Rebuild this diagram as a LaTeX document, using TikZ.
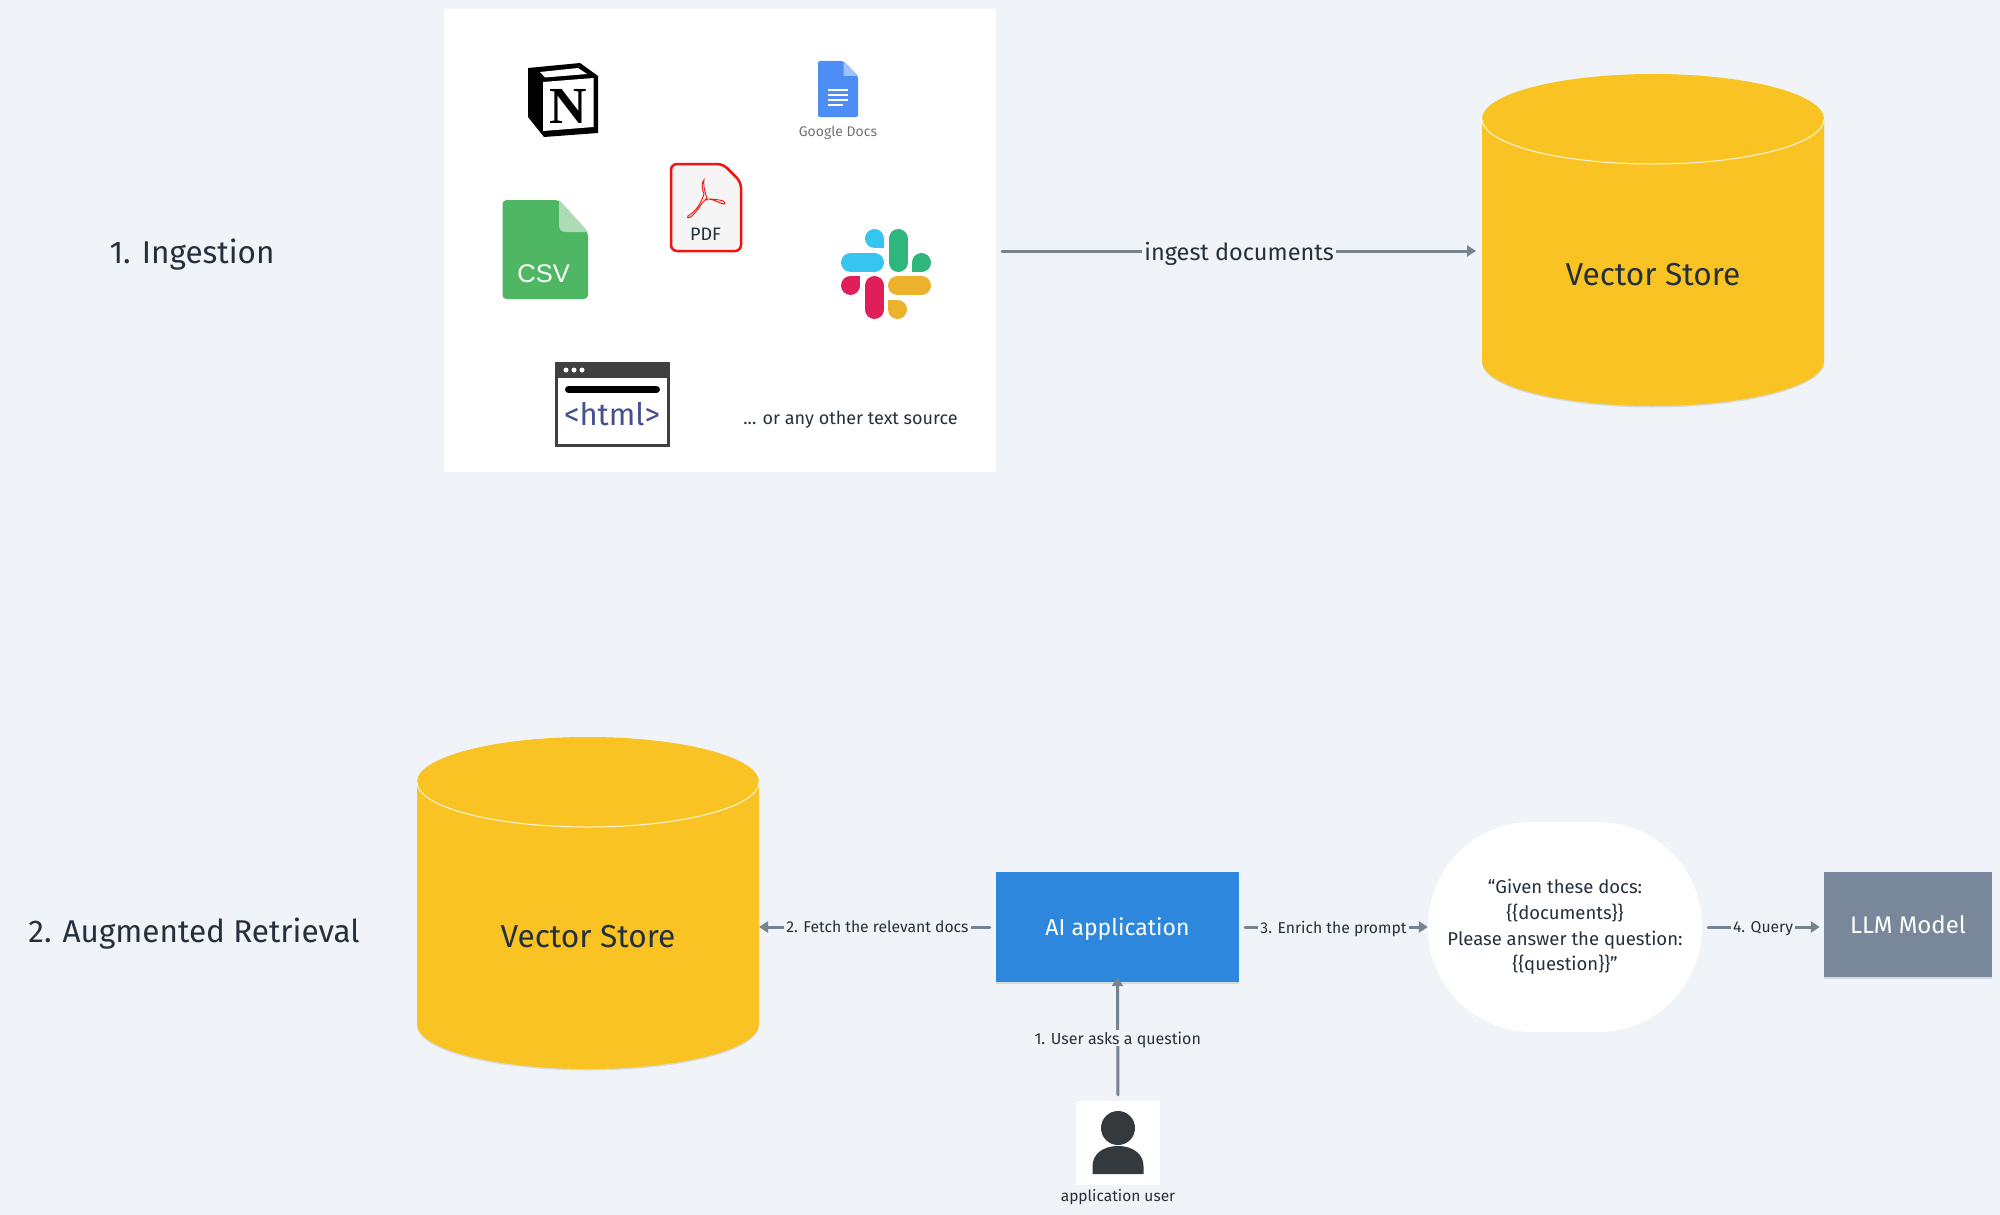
\documentclass[tikz,border=0pt]{standalone}
\usepackage{fontspec}
\setmainfont{Fira Sans}
\usetikzlibrary{arrows.meta,shadows}
\definecolor{pagebg}{HTML}{F0F3F7}
\definecolor{ink}{HTML}{25303D}
\definecolor{flowgray}{HTML}{76848F}
\definecolor{storeyellow}{HTML}{F9C423}
\definecolor{appblue}{HTML}{2D87DC}
\definecolor{llmgray}{HTML}{78889A}
\definecolor{persongray}{HTML}{33393D}
\definecolor{docsblue}{HTML}{4E8DF5}
\definecolor{docsfold}{HTML}{A1C2FA}
\definecolor{csvgreen}{HTML}{4FB764}
\definecolor{csvfold}{HTML}{ADDBB3}
\definecolor{htmlblue}{HTML}{46508C}
\definecolor{pdfred}{HTML}{F0140E}
\definecolor{slackblue}{HTML}{36C5F0}
\definecolor{slackgreen}{HTML}{2EB67D}
\definecolor{slackred}{HTML}{E01E5A}
\definecolor{slackyellow}{HTML}{ECB22E}
\newcommand{\px}[1]{\fontsize{#1}{#1}\selectfont}
\newcommand{\drawstore}[1]{%
    \fill[storeyellow,softshadow] ([yshift=-45]#1.north west) arc[start angle=180,end angle=360,x radius=171,y radius=45] -- ([yshift=45]#1.south east) arc[start angle=0,end angle=180,x radius=171,y radius=45] -- cycle;
    \draw[rim] ([yshift=-45]#1.north west) arc[start angle=180,end angle=0,x radius=171,y radius=45];
}
\tikzset{
    softshadow/.style={drop shadow={shadow xshift=0pt,shadow yshift=-1.5pt,opacity=.1,fill=black}},
    store/.style={minimum height=332,minimum width=342,inner sep=0,outer sep=0},
    storetext/.style={text=ink,font=\px{31.7},text depth=0},
    rim/.style={draw=white!85!storeyellow,line width=1},
    box/.style={text=white,inner sep=0,softshadow,text depth=0},
    flow/.style={draw=flowgray,line width=3,line cap=round,shorten <=6,-{Triangle[length=9,width=11]}},
    flowlabel/.style={fill=pagebg,text=ink,inner sep=2,font=\px{15.7},text depth=0},
    title/.style={text=ink,inner sep=0,font=\px{31.5},text depth=0},
}
\begin{document}
\begin{tikzpicture}[x=1pt,y=-1pt]
        \path[fill=pagebg,use as bounding box] (0,0) rectangle (2000,1215);
        \node[title] (ingestion) at (192,251) {1. Ingestion};
        \node[title] (retrieval) at (194,930) {2. Augmented Retrieval};
        \node[fill=white,minimum width=552,minimum height=463,inner sep=0] (panel) at (720,240.5) {};
        \node[store] (store1) at (1653,240) {};
        \node[store] (store2) at (588,903) {};
        \drawstore{store1}
        \drawstore{store2}
        \node[storetext] (store1text) at (1653,274) {Vector Store};
        \node[storetext] (store2text) at (588,936) {Vector Store};
        \node[box,fill=appblue,minimum width=243,minimum height=110,font=\px{23}] (aiapp) at (1117.5,927) {AI application};
        \node[fill=white,rounded corners=104,minimum width=274,minimum height=210,inner sep=0,text=ink,align=center,font=\fontsize{18.5}{25.6}\selectfont] (prompt) at (1565,927) {``Given these docs:\\\{\{documents\}\}\\Please answer the question:\\\{\{question\}\}''};
        \node[box,fill=llmgray,minimum width=168,minimum height=105,font=\px{24}] (llm) at (1908,924.5) {LLM Model};
        \node[fill=white,minimum width=84,minimum height=84,inner sep=0] (user) at (1118,1143) {};
        \node[text=ink,font=\px{15.5}] (usertext) at (1118,1197) {application user};
        \fill[persongray] (1118,1128) ellipse (17 and 17);
        \fill[persongray] (1092.5,1174) -- (1092.5,1166) .. controls (1092.5,1155) and (1102,1146) .. (1118,1146) .. controls (1134,1146) and (1143.5,1155) .. (1143.5,1166) -- (1143.5,1174) -- cycle;
        \draw[flow,shorten >=6] (ingestion -| panel.east) -- node[flowlabel,font=\px{23.5}]{ingest documents} (ingestion -| store1.west);
        \draw[flow] (aiapp.west) -- node[flowlabel]{2. Fetch the relevant docs} (aiapp.west -| store2.east);
        \draw[flow] (aiapp.east) -- node[flowlabel]{3. Enrich the prompt} (prompt.west);
        \draw[flow,shorten >=4] (prompt.east) -- node[flowlabel]{4. Query} (prompt.east -| llm.west);
        \draw[flow,shorten >=-5] (user.north) -- node[flowlabel,pos=.53,font=\px{16}]{1. User asks a question} (aiapp.south);
        \fill[black] (528,68) -- (580,63) -- (598,76) -- (598,133) -- (544,137) -- (528,117) -- cycle;
        \fill[white] (540,72) -- (578,68) -- (587,74) -- (545,77.5) -- cycle;
        \fill[white] (543,82) -- (593.5,78) -- (593.5,127) -- (543,131) -- cycle;
        \node[text=black,inner sep=0,font={\fontspec{Liberation Serif}\bfseries\px{52}}] (notion) at (568.5,106) {N};
        \fill[docsblue,rounded corners=2] (818,61) -- (843.5,61) -- (858,76) -- (858,117) -- (818,117) -- cycle;
        \fill[docsfold] (843.5,61) -- (858,76) -- (843.5,76) -- cycle;
        \draw[white,line width=1.6] (828,90) -- (848,90) (828,95) -- (848,95) (828,100) -- (848,100) (828,105) -- (843,105);
        \node[text=black!55,inner sep=0,font=\px{14}] (docs) at (838,133) {Google Docs};
        \draw[draw=pdfred,fill=black!4,line width=2.5,rounded corners=6] (671,164) -- (723,164) -- (741,182) -- (741,251) -- (671,251) -- cycle;
        \draw[pdfred,line width=.9] (704,180) .. controls (701,182) and (702,190) .. (704,194) .. controls (701,204) and (695,212) .. (688,216) .. controls (686,219) and (691,218) .. (694,214) .. controls (698,210) and (702,202) .. (706,199) .. controls (714,198) and (725,207) .. (725,203) .. controls (725,200) and (714,199) .. (706,199) .. controls (710,204) and (702,188) .. (704,180) -- cycle;
        \node[text=ink,inner sep=0,font=\px{18}] (pdf) at (705.5,234) {PDF};
        \fill[csvgreen,rounded corners=4] (502.5,200) -- (559,200) -- (588,232) -- (588,299) -- (502.5,299) -- cycle;
        \fill[csvfold] (559,200) -- (588,232) -- (566,232) .. controls (561,232) and (559,229) .. (559,225) -- cycle;
        \node[text=white,inner sep=0,font={\fontspec{Liberation Sans}\px{25.5}}] (csv) at (543.6,274) {CSV};
        \draw[slackgreen,line width=19,line cap=round] (898,238.5) -- (898,262.5);
        \fill[slackgreen] (921.5,262.5) circle (9.5);
        \fill[slackgreen] (912,262.5) rectangle (921.5,272);
        \draw[slackblue,line width=19,line cap=round] (850.5,262.5) -- (874.5,262.5);
        \fill[slackblue] (874.5,238.5) circle (9.5);
        \fill[slackblue] (874.5,238.5) rectangle (884,248);
        \draw[slackyellow,line width=19,line cap=round] (897.5,285.5) -- (921.5,285.5);
        \fill[slackyellow] (897.5,309.5) circle (9.5);
        \fill[slackyellow] (888,300) rectangle (897.5,309.5);
        \draw[slackred,line width=19,line cap=round] (874.5,285.5) -- (874.5,309.5);
        \fill[slackred] (850.5,285.5) circle (9.5);
        \fill[slackred] (850.5,276) rectangle (860,285.5);
        \draw[draw=black!75,fill=white,line width=3] (556.5,363.5) rectangle (668.5,445.5);
        \fill[black!75] (555,362) rectangle (670,378);
        \fill[white] (566,370) circle (2.5) (574,370) circle (2.5) (582,370) circle (2.5);
        \draw[black,line width=7,line cap=round] (568.5,389.5) -- (656.5,389.5);
        \node[text=htmlblue,inner sep=0,font=\px{31}] (html) at (612,414) {<html>};
        \node[text=ink,inner sep=0,font=\px{18}] (other) at (850.5,420) {... or any other text source};
    \end{tikzpicture}
\end{document}
